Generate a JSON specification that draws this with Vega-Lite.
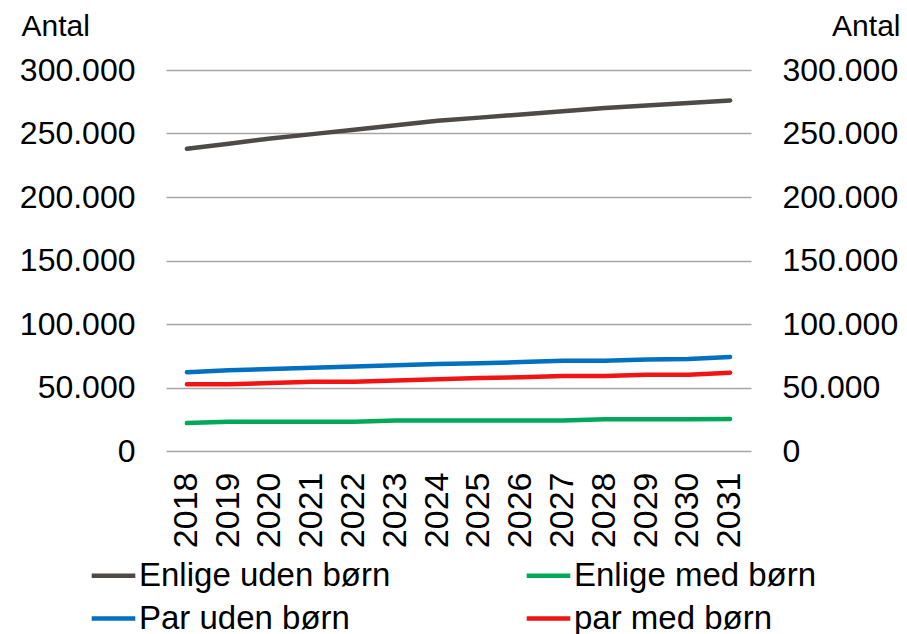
{
  "$schema": "https://vega.github.io/schema/vega-lite/v6.json",
  "autosize": "none",
  "width": 585,
  "height": 381,
  "padding": {"left": 166, "top": 70, "right": 156, "bottom": 183},
  "background": "white",
  "config": {
    "view": {"stroke": null},
    "font": "Liberation Sans",
    "axis": {"labelFont": "Liberation Sans", "titleFont": "Liberation Sans", "labelColor": "#000000", "titleColor": "#000000"}
  },
  "data": {
    "values": [
      {"year": "2018", "group": "Enlige uden børn", "value": 238000},
      {"year": "2019", "group": "Enlige uden børn", "value": 242000},
      {"year": "2020", "group": "Enlige uden børn", "value": 246000},
      {"year": "2021", "group": "Enlige uden børn", "value": 249500},
      {"year": "2022", "group": "Enlige uden børn", "value": 253000},
      {"year": "2023", "group": "Enlige uden børn", "value": 256500},
      {"year": "2024", "group": "Enlige uden børn", "value": 260000},
      {"year": "2025", "group": "Enlige uden børn", "value": 262500},
      {"year": "2026", "group": "Enlige uden børn", "value": 265000},
      {"year": "2027", "group": "Enlige uden børn", "value": 267500},
      {"year": "2028", "group": "Enlige uden børn", "value": 270000},
      {"year": "2029", "group": "Enlige uden børn", "value": 272000},
      {"year": "2030", "group": "Enlige uden børn", "value": 274000},
      {"year": "2031", "group": "Enlige uden børn", "value": 276000},
      {"year": "2018", "group": "Enlige med børn", "value": 22000},
      {"year": "2019", "group": "Enlige med børn", "value": 23000},
      {"year": "2020", "group": "Enlige med børn", "value": 23000},
      {"year": "2021", "group": "Enlige med børn", "value": 23000},
      {"year": "2022", "group": "Enlige med børn", "value": 23000},
      {"year": "2023", "group": "Enlige med børn", "value": 24000},
      {"year": "2024", "group": "Enlige med børn", "value": 24000},
      {"year": "2025", "group": "Enlige med børn", "value": 24000},
      {"year": "2026", "group": "Enlige med børn", "value": 24000},
      {"year": "2027", "group": "Enlige med børn", "value": 24000},
      {"year": "2028", "group": "Enlige med børn", "value": 25000},
      {"year": "2029", "group": "Enlige med børn", "value": 25000},
      {"year": "2030", "group": "Enlige med børn", "value": 25000},
      {"year": "2031", "group": "Enlige med børn", "value": 25200},
      {"year": "2018", "group": "Par uden børn", "value": 62000},
      {"year": "2019", "group": "Par uden børn", "value": 63500},
      {"year": "2020", "group": "Par uden børn", "value": 64500},
      {"year": "2021", "group": "Par uden børn", "value": 65500},
      {"year": "2022", "group": "Par uden børn", "value": 66500},
      {"year": "2023", "group": "Par uden børn", "value": 67500},
      {"year": "2024", "group": "Par uden børn", "value": 68500},
      {"year": "2025", "group": "Par uden børn", "value": 69000},
      {"year": "2026", "group": "Par uden børn", "value": 70000},
      {"year": "2027", "group": "Par uden børn", "value": 71000},
      {"year": "2028", "group": "Par uden børn", "value": 71000},
      {"year": "2029", "group": "Par uden børn", "value": 72000},
      {"year": "2030", "group": "Par uden børn", "value": 72500},
      {"year": "2031", "group": "Par uden børn", "value": 74000},
      {"year": "2018", "group": "par med børn", "value": 52500},
      {"year": "2019", "group": "par med børn", "value": 52500},
      {"year": "2020", "group": "par med børn", "value": 53500},
      {"year": "2021", "group": "par med børn", "value": 54500},
      {"year": "2022", "group": "par med børn", "value": 54500},
      {"year": "2023", "group": "par med børn", "value": 55500},
      {"year": "2024", "group": "par med børn", "value": 56500},
      {"year": "2025", "group": "par med børn", "value": 57500},
      {"year": "2026", "group": "par med børn", "value": 58000},
      {"year": "2027", "group": "par med børn", "value": 59000},
      {"year": "2028", "group": "par med børn", "value": 59000},
      {"year": "2029", "group": "par med børn", "value": 60000},
      {"year": "2030", "group": "par med børn", "value": 60000},
      {"year": "2031", "group": "par med børn", "value": 61700}
    ]
  },
  "encoding": {
    "x": {
      "field": "year",
      "type": "ordinal",
      "scale": {"type": "band", "paddingInner": 0, "paddingOuter": 0},
      "axis": {
        "title": null,
        "labelAngle": -90,
        "labelFontSize": 34,
        "labelPadding": 21,
        "ticks": false,
        "domain": false,
        "grid": false
      }
    }
  },
  "layer": [
    {
      "mark": {"type": "line", "strokeWidth": 4.5, "strokeCap": "round", "strokeJoin": "round"},
      "encoding": {
        "y": {
          "field": "value",
          "type": "quantitative",
          "scale": {"domain": [0, 300000], "nice": false},
          "axis": {
            "orient": "left",
            "values": [0, 50000, 100000, 150000, 200000, 250000, 300000],
            "labelExpr": "replace(format(datum.value, ','), ',', '.')",
            "labelFontSize": 32,
            "labelPadding": 31,
            "ticks": false,
            "domain": false,
            "grid": true,
            "gridColor": "#a6a6a6",
            "gridWidth": 1.5,
            "title": "Antal",
            "titleAngle": 0,
            "titleFontSize": 30,
            "titleFontWeight": "normal",
            "titleAlign": "left",
            "titleBaseline": "alphabetic",
            "titleX": -145,
            "titleY": -35
          }
        },
        "color": {
          "field": "group",
          "type": "nominal",
          "scale": {
            "domain": ["Enlige uden børn", "Enlige med børn", "Par uden børn", "par med børn"],
            "range": ["#4d4a48", "#00a859", "#0070c0", "#f01414"]
          },
          "legend": {
            "title": null,
            "orient": "none",
            "legendX": -77,
            "legendY": 481,
            "direction": "horizontal",
            "columns": 2,
            "columnPadding": 126,
            "rowPadding": 1,
            "symbolType": "stroke",
            "symbolSize": 1900,
            "symbolStrokeWidth": 4.5,
            "labelFontSize": 33,
            "labelFont": "Liberation Sans",
            "labelColor": "#000000",
            "labelOffset": 1,
            "labelLimit": 400
          }
        }
      }
    },
    {
      "mark": {"type": "line", "strokeOpacity": 0},
      "encoding": {
        "detail": {"field": "group"},
        "y": {
          "field": "value",
          "type": "quantitative",
          "scale": {"domain": [0, 300000], "nice": false},
          "axis": {
            "orient": "right",
            "values": [0, 50000, 100000, 150000, 200000, 250000, 300000],
            "labelExpr": "replace(format(datum.value, ','), ',', '.')",
            "labelFontSize": 32,
            "labelPadding": 31,
            "ticks": false,
            "domain": false,
            "grid": false,
            "title": "Antal",
            "titleAngle": 0,
            "titleFontSize": 30,
            "titleFontWeight": "normal",
            "titleAlign": "right",
            "titleBaseline": "alphabetic",
            "titleX": 149,
            "titleY": -35
          }
        }
      }
    }
  ],
  "resolve": {"scale": {"y": "independent"}, "axis": {"y": "independent"}}
}
